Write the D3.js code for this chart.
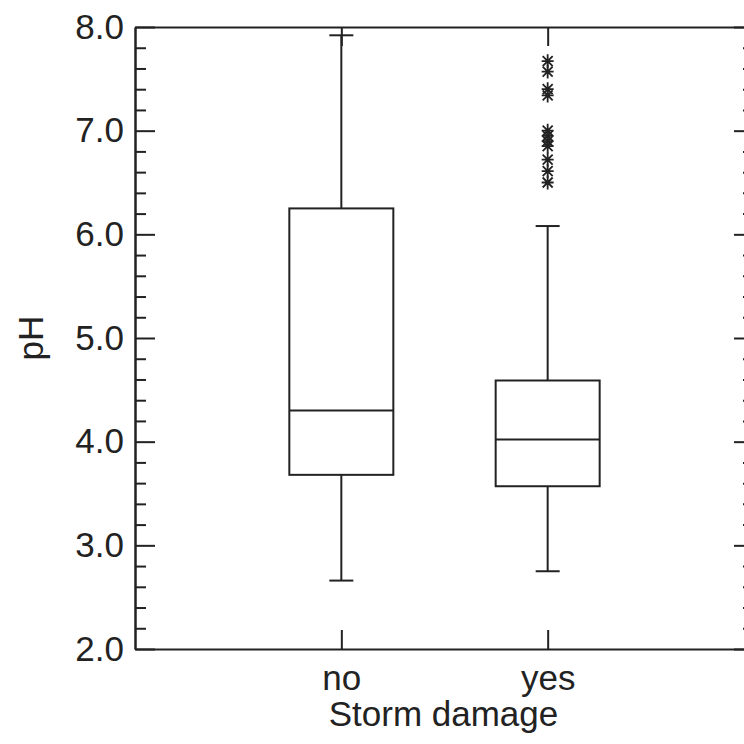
<!DOCTYPE html>
<html>
<head>
<meta charset="utf-8">
<script src="https://cdn.jsdelivr.net/npm/d3@7"></script>
<style>
  body { margin: 0; background: #fff; }
  svg { display: block; }
  .axis text { font-family: "Liberation Sans", Arial, sans-serif; font-size: 35px; fill: #222; }
  .axis path, .axis line { stroke: #222; stroke-width: 2; }
</style>
</head>
<body>
<svg id="chart" width="744" height="744"></svg>
<script>
// box summaries
var groups = ["no", "yes"];
var lowWhisker = [2.66, 2.75];
var q1 = [3.68, 3.57];
var median = [4.30, 4.02];
var q3 = [6.25, 4.59];
var highWhisker = [7.92, 6.08];
// outliers (only the "yes" group has them)
var outlierGroup = ["yes", "yes", "yes", "yes", "yes", "yes", "yes", "yes", "yes", "yes", "yes"];
var outlierValue = [7.67, 7.57, 7.40, 7.34, 7.00, 6.95, 6.90, 6.85, 6.72, 6.61, 6.50];

var majorTicks = [2, 3, 4, 5, 6, 7, 8];
var minorTicks = d3.range(2, 8.001, 0.2).filter(function(v) { return Math.abs(v - Math.round(v)) > 0.01; });

var margin = {top: 27, right: -10, bottom: 95, left: 135};
var width = 744 - margin.left - margin.right;
var height = 744 - margin.top - margin.bottom;

var svg = d3.select("#chart")
  .append("g")
    .attr("transform", "translate(" + margin.left + "," + margin.top + ")");

var y = d3.scaleLinear().domain([2, 8]).range([height, 0]);
var x = d3.scalePoint().domain(groups).range([0, width]).padding(1);

// left axis
svg.append("g").attr("class", "axis")
  .call(d3.axisLeft(y).tickValues(majorTicks).tickSize(-20).tickSizeOuter(0).tickPadding(11)
    .tickFormat(d3.format(".1f")));
svg.append("g").attr("class", "axis")
  .call(d3.axisLeft(y).tickValues(minorTicks).tickSize(-11).tickSizeOuter(0).tickFormat(""));

// right axis
svg.append("g").attr("class", "axis")
  .attr("transform", "translate(" + width + ",0)")
  .call(d3.axisRight(y).tickValues(majorTicks).tickSize(-20).tickSizeOuter(0).tickFormat(""));
svg.append("g").attr("class", "axis")
  .attr("transform", "translate(" + width + ",0)")
  .call(d3.axisRight(y).tickValues(minorTicks).tickSize(-11).tickSizeOuter(0).tickFormat(""));

// bottom axis
svg.append("g").attr("class", "axis")
  .attr("transform", "translate(0," + height + ")")
  .call(d3.axisBottom(x).tickSize(-19).tickSizeOuter(0))
  .selectAll("text").attr("y", 41).attr("dy", 0);

// top axis
svg.append("g").attr("class", "axis")
  .call(d3.axisTop(x).tickSize(-19).tickSizeOuter(0).tickFormat(""));

// axis titles
svg.append("text")
  .attr("x", width / 2 - 1)
  .attr("y", height + 77)
  .style("text-anchor", "middle")
  .style("font-family", "Liberation Sans, Arial, sans-serif")
  .style("font-size", "35px")
  .style("fill", "#222")
  .text("Storm damage");

svg.append("text")
  .attr("transform", "rotate(-90)")
  .attr("x", -height / 2)
  .attr("y", -92)
  .style("text-anchor", "middle")
  .style("font-family", "Liberation Sans, Arial, sans-serif")
  .style("font-size", "35px")
  .style("fill", "#222")
  .text("pH");

// boxes
var boxW = 104, capW = 24;
var box = svg.selectAll(".box")
  .data(groups)
  .enter()
  .append("g")
    .attr("class", "box")
    .attr("transform", function(d) { return "translate(" + x(d) + ",0)"; })
    .style("stroke", "#222")
    .style("stroke-width", 2)
    .style("fill", "none");

box.append("line")
  .attr("y1", function(d, i) { return y(q3[i]); })
  .attr("y2", function(d, i) { return y(highWhisker[i]); });
box.append("line")
  .attr("y1", function(d, i) { return y(q1[i]); })
  .attr("y2", function(d, i) { return y(lowWhisker[i]); });
box.append("line")
  .attr("x1", -capW / 2).attr("x2", capW / 2)
  .attr("y1", function(d, i) { return y(highWhisker[i]); })
  .attr("y2", function(d, i) { return y(highWhisker[i]); });
box.append("line")
  .attr("x1", -capW / 2).attr("x2", capW / 2)
  .attr("y1", function(d, i) { return y(lowWhisker[i]); })
  .attr("y2", function(d, i) { return y(lowWhisker[i]); });
box.append("rect")
  .attr("x", -boxW / 2)
  .attr("width", boxW)
  .attr("y", function(d, i) { return y(q3[i]); })
  .attr("height", function(d, i) { return y(q1[i]) - y(q3[i]); });
box.append("line")
  .attr("x1", -boxW / 2).attr("x2", boxW / 2)
  .attr("y1", function(d, i) { return y(median[i]); })
  .attr("y2", function(d, i) { return y(median[i]); });

// outlier asterisks
var star = "M0,-7V7M-6,0H6M-5,-5L5,5M-5,5L5,-5";
svg.selectAll(".outlier")
  .data(outlierValue)
  .enter()
  .append("path")
    .attr("class", "outlier")
    .attr("d", star)
    .attr("transform", function(d, i) { return "translate(" + x(outlierGroup[i]) + "," + y(d) + ")"; })
    .style("stroke", "#222")
    .style("stroke-width", 1.8)
    .style("fill", "none");
</script>
</body>
</html>
